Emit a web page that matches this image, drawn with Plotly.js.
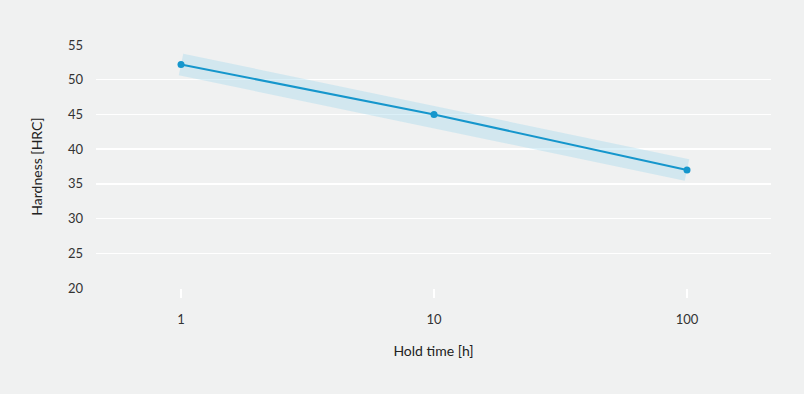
<!DOCTYPE html>
<html><head><meta charset="utf-8">
<script src="https://cdn.plot.ly/plotly-3.0.1.min.js"></script>
<style>html,body{margin:0;padding:0;background:#f0f1f1;}</style>
</head><body>
<div id="chart" style="width:804px;height:394px;"></div>
<script>
const holdTime = [1, 10, 100];
const hardness = [52.2, 45.0, 37.0];
const yTicks = [20, 25, 30, 35, 40, 45, 50, 55];
const xTicks = [1, 10, 100];

const band = {
  x: holdTime, y: hardness, type: 'scatter', mode: 'lines',
  line: {color: 'rgba(165,218,238,0.4)', width: 22},
  hoverinfo: 'skip', showlegend: false
};
const line = {
  x: holdTime, y: hardness, type: 'scatter', mode: 'lines+markers',
  line: {color: '#1596cc', width: 2},
  marker: {color: '#1596cc', size: 7},
  showlegend: false
};
const layout = {
  width: 804, height: 394,
  paper_bgcolor: '#f0f1f1', plot_bgcolor: '#f0f1f1',
  margin: {l: 96, r: 33, t: 45, b: 106},
  font: {family: 'Lato, sans-serif', size: 13, color: '#333'},
  xaxis: {
    type: 'log', range: [-0.336, 2.332],
    tickvals: xTicks, ticktext: xTicks.map(String),
    showgrid: false, zeroline: false, showline: false,
    ticks: 'outside', ticklen: 9, tickwidth: 1.5, tickcolor: '#ffffff',
    ticklabelstandoff: 10,
    title: {text: 'Hold time [h]', font: {size: 14, color: '#222'}, standoff: 20}
  },
  yaxis: {
    range: [20, 55], tickvals: yTicks,
    showgrid: true, gridcolor: '#ffffff', gridwidth: 1.5,
    zeroline: false, showline: false, ticks: '',
    ticklabelstandoff: 12,
    title: {text: 'Hardness [HRC]', font: {size: 14, color: '#222'}, standoff: 22}
  }
};
Plotly.newPlot('chart', [band, line], layout, {displayModeBar: false, staticPlot: true});
</script>
</body></html>
